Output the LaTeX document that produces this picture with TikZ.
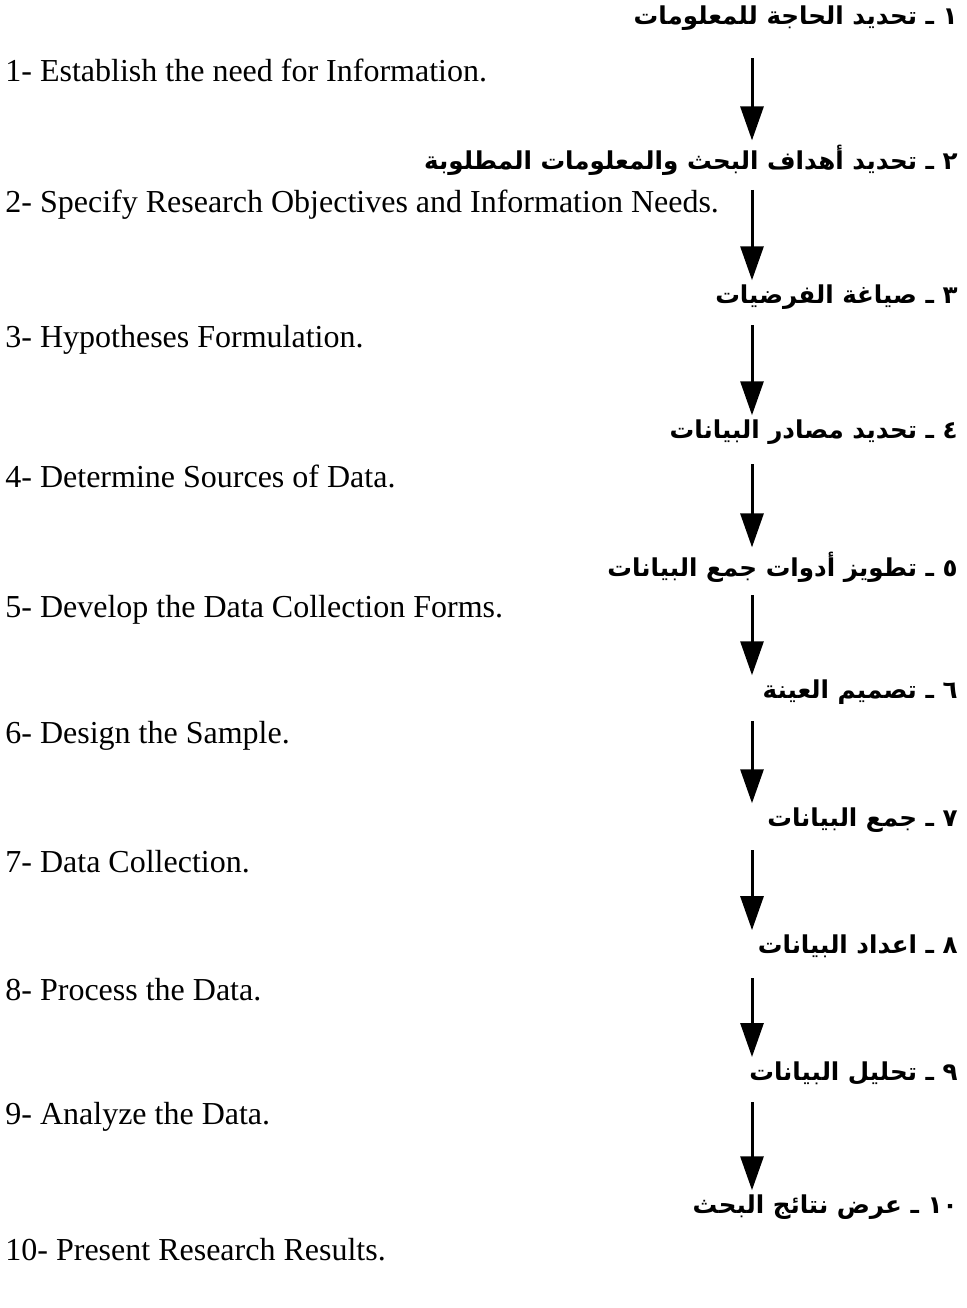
\documentclass[tikz,border=0pt]{standalone}
\usepackage{fontspec}
\setmainfont{Liberation Serif}
\newfontfamily\arabicfont[Script=Arabic]{DejaVu Sans}
\TeXXeTstate=1
\usetikzlibrary{
  arrows.meta,
  positioning
}

\begin{document}
\begin{tikzpicture}[x=0.5pt,y=-0.5pt,
  ar/.style={anchor=east, inner sep=0pt, font=\arabicfont\bfseries\fontsize{12.3}{14}\selectfont},
  en/.style={anchor=west, inner sep=0pt, font=\fontsize{16}{18}\selectfont},
  flow/.style={-{Triangle[length=17pt,width=11.5pt]}, line width=1.5pt, shorten >=2pt}]
\useasboundingbox (0,0) rectangle (966,1308);
\coordinate (ax) at (752,0);
% arabic steps, right side
\node[ar] (a1) at (958,18) {\beginR ١ ـ تحديد الحاجة للمعلومات\endR};
\node[ar] (a2) at (958,160) {\beginR ٢ ـ تحديد أهداف البحث والمعلومات المطلوبة\endR};
\node[ar] (a3) at (958,297) {\beginR ٣ ـ صياغة الفرضيات\endR};
\node[ar] (a4) at (958,432) {\beginR ٤ ـ تحديد مصادر البيانات\endR};
\node[ar] (a5) at (958,567) {\beginR ٥ ـ تطويز أدوات جمع البيانات\endR};
\node[ar] (a6) at (958,692) {\beginR ٦ ـ تصميم العينة\endR};
\node[ar] (a7) at (958,820) {\beginR ٧ ـ جمع البيانات\endR};
\node[ar] (a8) at (958,946) {\beginR ٨ ـ اعداد البيانات\endR};
\node[ar] (a9) at (958,1073) {\beginR ٩ ـ تحليل البيانات\endR};
\node[ar] (a10) at (958,1207) {\beginR\beginL ١٠\endL{} ـ عرض نتائج البحث\endR};
% english steps, left side
\node[en] (e1) at (5,70) {1- Establish the need for Information.};
\node[en] (e2) at (5,205) {2- Specify Research Objectives and Information Needs.};
\node[en] (e3) at (5,340) {3- Hypotheses Formulation.};
\node[en] (e4) at (5,476) {4- Determine Sources of Data.};
\node[en] (e5) at (5,610) {5- Develop the Data Collection Forms.};
\node[en] (e6) at (5,736) {6- Design the Sample.};
\node[en] (e7) at (5,862) {7- Data Collection.};
\node[en] (e8) at (5,990) {8- Process the Data.};
\node[en] (e9) at (5,1117) {9- Analyze the Data.};
\node[en] (e10) at (5,1250) {10- Present Research Results.};
% arrows
\foreach \i/\j in {1/2,2/3,3/4,4/5,5/6,6/7,7/8,8/9,9/10}
  \draw[flow] (e\i.north -| ax) -- (a\j.north -| ax);
\end{tikzpicture}
\end{document}
